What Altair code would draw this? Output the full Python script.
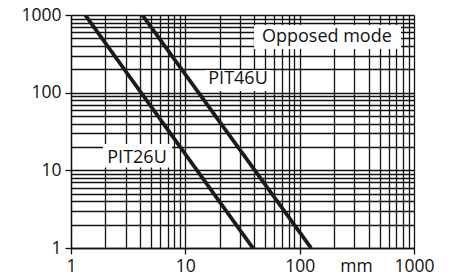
import altair as alt
import pandas as pd

# Curves (distance mm vs excess gain)
series_names = ["PIT26U", "PIT26U", "PIT46U", "PIT46U"]
series_x = [1.33, 39.0, 4.2, 126.0]
series_y = [1000, 1, 1000, 1]

# grid / tick values
grid_values = [1, 2, 3, 4, 5, 6, 7, 8, 9,
               10, 20, 30, 40, 50, 60, 70, 80, 90,
               100, 200, 300, 400, 500, 600, 700, 800, 900, 1000]
major_values = [1, 10, 100, 1000]

# annotation labels
label_text = ["PIT46U", "PIT26U", "Opposed mode"]
label_x = [28.9, 3.78, 173]
label_y = [150, 14.4, 521]
box_x1 = [14.9, 1.9, 39.9]
box_x2 = [56.1, 7.65, 770]
box_y1 = [105, 10.9, 365]
box_y2 = [196, 21.8, 743]

lines_df = pd.DataFrame({"series": series_names, "x": series_x, "y": series_y})
labels_df = pd.DataFrame({
    "text": label_text, "x": label_x, "y": label_y,
    "x1": box_x1, "x2": box_x2, "y1": box_y1, "y2": box_y2,
})

FONT = "Open Sans"
major_test = "indexof([1,10,100,1000], datum.value) >= 0"

xscale = alt.Scale(type="log", domain=[1, 1000], nice=False)
yscale = alt.Scale(type="log", domain=[1, 1000], nice=False)

xaxis = alt.Axis(
    values=grid_values, grid=True, gridColor="#111", gridWidth=1.3, gridOpacity=1,
    domain=True, domainColor="#111", domainWidth=1.3,
    ticks=True, tickColor="#111", tickSize=6, tickWidth=1.3,
    tickOpacity={"condition": {"test": major_test, "value": 1}, "value": 0},
    labelExpr="indexof([1,10,100,1000], datum.value) >= 0 ? datum.label : ''",
    format="d", labelFont=FONT, labelFontSize=17.5, labelColor="#111",
    labelPadding=3, labelFlush=False, labelOverlap=False,
    title="mm", titleFont=FONT, titleFontSize=17.5, titleFontWeight="normal",
    titleColor="#111", titleX=285, titleY=18, titleBaseline="middle",
    titleAlign="center", titleAnchor="start",
)
yaxis = alt.Axis(
    values=grid_values, grid=True, gridColor="#111", gridWidth=1.3, gridOpacity=1,
    domain=True, domainColor="#111", domainWidth=1.3,
    ticks=True, tickColor="#111", tickSize=6, tickWidth=1.3,
    tickOpacity={"condition": {"test": major_test, "value": 1}, "value": 0},
    labelExpr="indexof([1,10,100,1000], datum.value) >= 0 ? datum.label : ''",
    format="d", labelFont=FONT, labelFontSize=17.5, labelColor="#111",
    labelPadding=4, labelFlush=False, labelOverlap=False, title=None,
)

lines = alt.Chart(lines_df).mark_line(color="#1a1a1a", strokeWidth=3.8, clip=True).encode(
    x=alt.X("x:Q", scale=xscale, axis=xaxis),
    y=alt.Y("y:Q", scale=yscale, axis=yaxis),
    detail="series:N",
)

boxes = alt.Chart(labels_df).mark_rect(fill="white", stroke=None).encode(
    x=alt.X("x1:Q", scale=xscale), x2="x2:Q",
    y=alt.Y("y1:Q", scale=yscale), y2="y2:Q",
)

texts = alt.Chart(labels_df).mark_text(
    font=FONT, fontSize=18, color="#111", align="center", baseline="middle"
).encode(
    x=alt.X("x:Q", scale=xscale),
    y=alt.Y("y:Q", scale=yscale),
    text="text:N",
)

chart = alt.layer(boxes, lines, texts).properties(
    width=343, height=233,
    padding={"left": 63, "top": 7, "right": 30, "bottom": 27},
    autosize=alt.AutoSizeParams(type="none"),
).configure_view(stroke=None)

chart.save("out.html", embed_options={"renderer": "svg", "actions": False})
